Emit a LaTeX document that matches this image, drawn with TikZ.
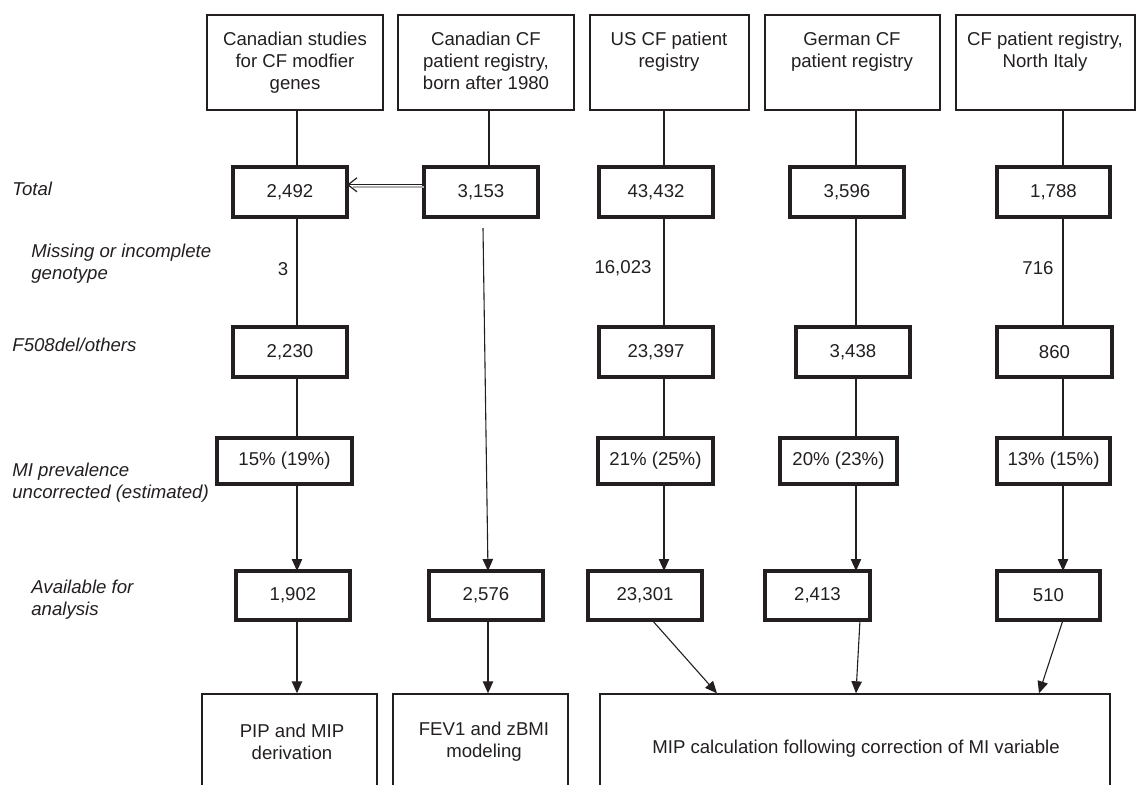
\documentclass[tikz,border=0pt]{standalone}
\usepackage{fontspec}
\setmainfont{Liberation Sans}
\usetikzlibrary{arrows.meta,fit}
\definecolor{ink}{HTML}{231F20}
\begin{document}
\begin{tikzpicture}[x=0.5pt,y=-0.5pt,
  txt/.style={text=ink,font=\fontsize{9.3}{11}\selectfont,inner sep=0pt},
  srcbox/.style={draw=ink,line width=0.7pt,inner sep=0pt},
  numbox/.style={draw=ink,line width=1.6pt,inner sep=0pt,outer sep=0pt,text=ink,
    font=\fontsize{9.3}{11}\selectfont,minimum height=25pt,minimum width=57pt},
  conn/.style={draw=ink,line width=0.55pt},
  arr/.style={conn,-{Triangle[length=6pt,width=5.2pt]}},
  lbl/.style={text=ink,inner sep=0pt,font=\fontsize{9.3}{11}\selectfont\itshape,anchor=north west,align=left}
]
\useasboundingbox (0,0) rectangle (1137,784);
\clip (0,0) rectangle (1137,784);

% source boxes
\node[srcbox,fit={(207,15)(383,110)}] (s1) {};
\node[srcbox,fit={(398,15)(574,110)}] (s2) {};
\node[srcbox,fit={(590,15)(749,110)}] (s3) {};
\node[srcbox,fit={(765,15)(940,110)}] (s4) {};
\node[srcbox,fit={(956,15)(1135,110)}] (s5) {};
\node[txt,align=center,anchor=north] (s1t) at (295,32) {Canadian studies\\for CF modfier\\genes};
\node[txt,align=center,anchor=north] (s2t) at (486,32) {Canadian CF\\patient registry,\\born after 1980};
\node[txt,align=center,anchor=north] (s3t) at (669,32) {US CF patient\\registry};
\node[txt,align=center,anchor=north] (s4t) at (852,32) {German CF\\patient registry};
\node[txt,align=center,anchor=north] (s5t) at (1045,32) {CF patient registry,\\North Italy};

% row labels
\node[lbl] (l1) at (12,182) {Total};
\node[lbl] (l2) at (31,244) {Missing or incomplete\\genotype};
\node[lbl] (l3) at (12,338) {F508del/others};
\node[lbl] (l4) at (12,463) {MI prevalence\\uncorrected (estimated)};
\node[lbl] (l5) at (31,580) {Available for\\analysis};

% total
\node[numbox] (a1) at (290,192) {2,492};
\node[numbox] (a2) at (481,192) {3,153};
\node[numbox] (a3) at (656,192) {43,432};
\node[numbox] (a4) at (847,192) {3,596};
\node[numbox,minimum width=56.5pt] (a5) at (1053.5,192) {1,788};

% F508del/others
\node[numbox] (b1) at (290,352) {2,230};
\node[numbox] (b3) at (656,352) {23,397};
\node[numbox] (b4) at (853,352) {3,438};
\node[numbox,minimum width=57.5pt] (b5) at (1054.5,352) {860};

% MI prevalence
\node[numbox,minimum height=23pt,minimum width=67.5pt] (m1) at (284.5,461) {15\% (19\%)};
\node[numbox,minimum height=23pt,minimum width=57.5pt] (m3) at (655.5,461) {21\% (25\%)};
\node[numbox,minimum height=23pt,minimum width=58.5pt] (m4) at (838.5,461) {20\% (23\%)};
\node[numbox,minimum height=23pt,minimum width=56.5pt] (m5) at (1053.5,461) {13\% (15\%)};

% available
\node[numbox,minimum height=24.5pt] (v1) at (293,595.5) {1,902};
\node[numbox,minimum height=24.5pt] (v2) at (486,595.5) {2,576};
\node[numbox,minimum height=24.5pt] (v3) at (645,595.5) {23,301};
\node[numbox,minimum height=24.5pt,minimum width=52.5pt] (v4) at (817.5,595.5) {2,413};
\node[numbox,minimum height=24.5pt,minimum width=51.5pt] (v5) at (1048.5,595.5) {510};

% outcome boxes
\node[srcbox,fit={(202,694)(377,830)}] (o1) {};
\node[srcbox,fit={(393,694)(568,830)}] (o2) {};
\node[srcbox,fit={(600,694)(1110,830)}] (o3) {};
\node[txt,align=center] (o1t) at (292,742) {PIP and MIP\\derivation};
\node[txt,align=center] (o2t) at (484,742) {FEV1 and zBMI\\modeling};
\node[txt] (o3t) at (856,749) {MIP calculation following correction of MI variable};

% missing counts
\node[txt] (k1) at (283,269) {3};
\node[txt] (k3) at (623,268) {16,023};
\node[txt] (k5) at (1038,268) {716};

% column coordinates
\coordinate (c1) at (297,0);
\coordinate (c2) at (489,0);
\coordinate (c2a) at (483,0);
\coordinate (c2b) at (488,0);
\coordinate (c3) at (664,0);
\coordinate (c3b) at (652,0);
\coordinate (c3o) at (717,0);
\coordinate (c4) at (856,0);
\coordinate (c4b) at (860,0);
\coordinate (c5) at (1063,0);
\coordinate (c5o) at (1039,0);

% column 1
\draw[conn] (s1.south -| c1) -- (a1.north -| c1);
\draw[conn] (a1.south -| c1) -- (b1.north -| c1);
\draw[conn] (b1.south -| c1) -- (m1.north -| c1);
\draw[arr] (m1.south -| c1) -- (v1.north -| c1);
\draw[arr] (v1.south -| c1) -- (o1.north -| c1);

% column 2
\draw[conn] (s2.south -| c2) -- (a2.north -| c2);
\draw[draw=ink!35,line width=0.7pt] ([yshift=2.6pt]a2.west) -- ([yshift=2.6pt,xshift=3pt]a1.east);
\draw[conn,-{Straight Barb[length=4.5pt,width=7pt,line width=0.6pt]}] ([yshift=3.6pt]a2.west) -- ([yshift=3.6pt]a1.east);
\draw[arr] ([yshift=-5.5pt]a2.south -| c2a) -- (v2.north -| c2b);
\draw[arr] (v2.south -| c2b) -- (o2.north -| c2b);

% column 3
\draw[conn] (s3.south -| c3) -- (a3.north -| c3);
\draw[conn] (a3.south -| c3) -- (b3.north -| c3);
\draw[conn] (b3.south -| c3) -- (m3.north -| c3);
\draw[arr] (m3.south -| c3) -- (v3.north -| c3);
\draw[arr] (v3.south -| c3b) -- (o3.north -| c3o);

% column 4
\draw[conn] (s4.south -| c4) -- (a4.north -| c4);
\draw[conn] (a4.south -| c4) -- (b4.north -| c4);
\draw[conn] (b4.south -| c4) -- (m4.north -| c4);
\draw[arr] (m4.south -| c4) -- (v4.north -| c4);
\draw[arr] (v4.south -| c4b) -- (o3.north -| c4);

% column 5
\draw[conn] (s5.south -| c5) -- (a5.north -| c5);
\draw[conn] (a5.south -| c5) -- (b5.north -| c5);
\draw[conn] (b5.south -| c5) -- (m5.north -| c5);
\draw[arr] (m5.south -| c5) -- (v5.north -| c5);
\draw[arr] (v5.south -| c5) -- (o3.north -| c5o);
\end{tikzpicture}
\end{document}
